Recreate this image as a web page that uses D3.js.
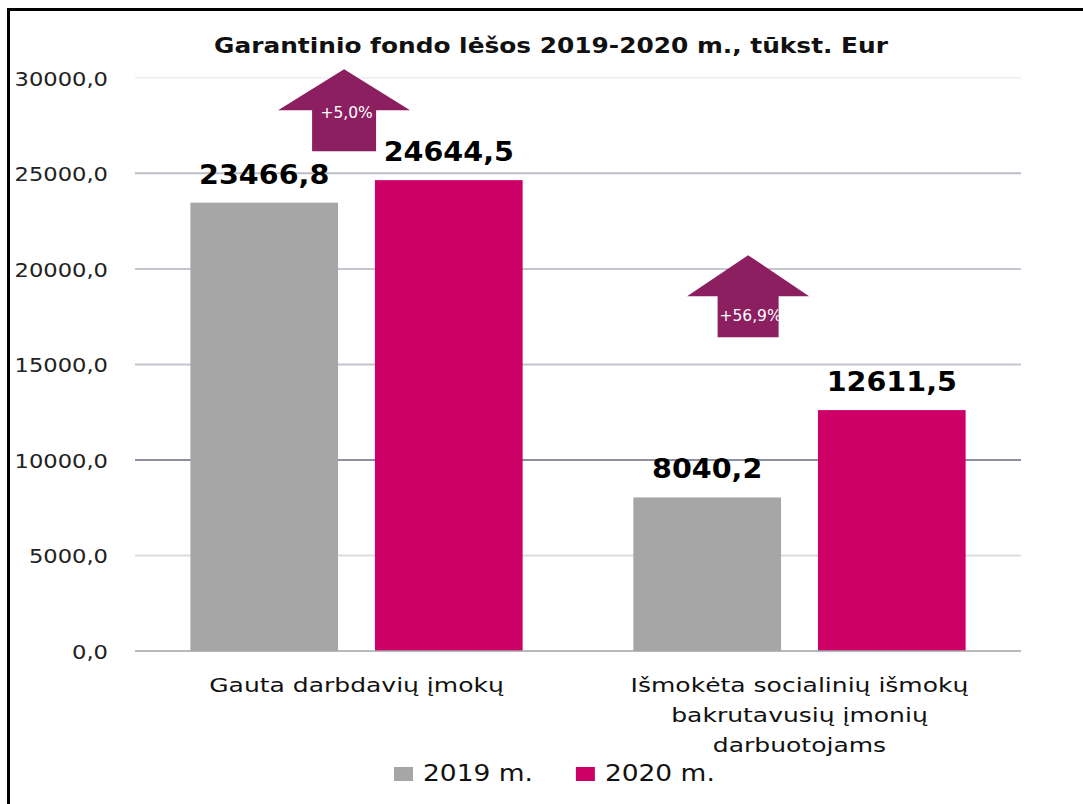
<!DOCTYPE html>
<html>
<head>
<meta charset="utf-8">
<script src="https://cdn.jsdelivr.net/npm/d3@7"></script>
<style>
  html, body { margin: 0; padding: 0; background: #fff; }
  svg { display: block; font-family: "DejaVu Sans", Verdana, sans-serif; }
</style>
</head>
<body>
<svg id="chart" width="1083" height="804"></svg>
<script>
// ---------- data ----------
const title = "Garantinio fondo lėšos 2019-2020 m., tūkst. Eur";
const categories = ["Gauta darbdavių įmokų", "Išmokėta socialinių išmokų bakrutavusių įmonių darbuotojams"];
const categoryLines = [["Gauta darbdavių įmokų"], ["Išmokėta socialinių išmokų", "bakrutavusių įmonių", "darbuotojams"]];
const seriesNames = ["2019 m.", "2020 m."];
const values2019 = [23466.8, 8040.2];
const values2020 = [24644.5, 12611.5];
const yTicks = [0, 5000, 10000, 15000, 20000, 25000, 30000];

// ---------- style ----------
const colors = { "2019 m.": "#a6a6a6", "2020 m.": "#cc0066" };
const arrowColor = "#8c1f60";
const gridColors = { 5000: "#dcdcdf", 10000: "#8e90a2", 15000: "#c4c5ce", 20000: "#c4c5ce", 25000: "#bcbdc8", 30000: "#f1f1f4" };
const arrowStyle = [
  { frac: 0.472, tipValue: 30450, headW: 132, headH: 41, shaftW: 64, shaftH: 41, labelDy: 8 },
  { frac: 0.384, tipValue: 20720, headW: 122, headH: 41, shaftW: 61, shaftH: 41, labelDy: 25 }
];

const locale = d3.formatLocale({ decimal: ",", thousands: "", grouping: [3], currency: ["", "€"] });
const fmt = locale.format(".1f");

const svg = d3.select("#chart");

function stretch(sel, k) {
  sel.each(function () {
    const w = this.getComputedTextLength();
    this.setAttribute("textLength", w * k);
    this.setAttribute("lengthAdjust", "spacingAndGlyphs");
  });
}

// frame
svg.append("rect").attr("x", 8.5).attr("y", 9.5).attr("width", 1200).attr("height", 1000)
  .attr("fill", "none").attr("stroke", "#000").attr("stroke-width", 3);

// scales
const y = d3.scaleLinear().domain([0, 30000]).range([651.1, 77.8]);
const x0 = d3.scaleBand().domain(categories).range([135, 1021]);
const x1 = d3.scaleBand().domain(seriesNames).range([0, x0.bandwidth()]).paddingInner(0.2).paddingOuter(0.3);

// gridlines
svg.append("g").selectAll("line").data(yTicks.filter(d => d > 0)).join("line")
  .attr("x1", 135).attr("x2", 1021)
  .attr("y1", d => y(d)).attr("y2", d => y(d))
  .attr("stroke", d => gridColors[d]).attr("stroke-width", 2);

// y axis labels
const yAxis = svg.append("g").attr("transform", "translate(135,0)")
  .call(d3.axisLeft(y).tickValues(yTicks).tickFormat(fmt).tickSize(0).tickPadding(27));
yAxis.select(".domain").remove();
yAxis.selectAll("text")
  .attr("font-family", "DejaVu Sans").attr("font-size", 19).attr("fill", "#222")
  .attr("dy", "0.39em")
  .call(stretch, 1.19);

// bars
const rows = categories.map((c, i) => ({ cat: c, vals: [{ s: seriesNames[0], v: values2019[i] }, { s: seriesNames[1], v: values2020[i] }] }));
const groups = svg.append("g").selectAll("g").data(rows).join("g")
  .attr("transform", d => `translate(${x0(d.cat)},0)`);
groups.selectAll("rect").data(d => d.vals).join("rect")
  .attr("x", d => x1(d.s)).attr("width", x1.bandwidth())
  .attr("y", d => y(d.v)).attr("height", d => y(0) - y(d.v))
  .attr("fill", d => colors[d.s]);

// baseline
svg.append("line").attr("x1", 135).attr("x2", 1021).attr("y1", y(0)).attr("y2", y(0))
  .attr("stroke", "#a3a3a3").attr("stroke-width", 1.5);

// value labels
groups.selectAll("text.val").data(d => d.vals).join("text").attr("class", "val")
  .attr("x", d => x1(d.s) + x1.bandwidth() / 2).attr("y", d => y(d.v) - 19)
  .attr("text-anchor", "middle").attr("font-weight", "bold").attr("font-size", 26).attr("fill", "#000")
  .text(d => fmt(d.v))
  .call(stretch, 1.1);

// category labels
const catG = svg.append("g").selectAll("text").data(categories).join("text")
  .attr("text-anchor", "middle").attr("font-size", 20).attr("fill", "#111");
catG.each(function (c, i) {
  const t = d3.select(this);
  categoryLines[i].forEach((line, j) => {
    t.append("tspan").attr("x", x0(c) + x0.bandwidth() / 2).attr("y", 692 + j * 30).text(line);
  });
});
catG.selectAll("tspan").call(stretch, 1.25);

// arrows
const defs = svg.append("defs");
arrowStyle.forEach((a, i) => {
  const cx = x0(categories[i]) + a.frac * x0.bandwidth();
  const ty = y(a.tipValue);
  const hb = ty + a.headH;
  const pts = [[cx, ty], [cx + a.headW / 2, hb], [cx + a.shaftW / 2, hb], [cx + a.shaftW / 2, hb + a.shaftH],
    [cx - a.shaftW / 2, hb + a.shaftH], [cx - a.shaftW / 2, hb], [cx - a.headW / 2, hb]];
  const pstr = pts.map(p => p.join(",")).join(" ");
  defs.append("clipPath").attr("id", "clipA" + i).append("polygon").attr("points", pstr);
  svg.append("polygon").attr("points", pstr).attr("fill", arrowColor);
  const change = (values2020[i] / values2019[i] - 1) * 100;
  svg.append("text").attr("clip-path", `url(#clipA${i})`)
    .attr("x", cx + 2.5).attr("y", hb + a.labelDy)
    .attr("text-anchor", "middle").attr("font-size", 15.5).attr("fill", "#fff")
    .text("+" + locale.format(".1f")(change) + "%");
});

// title
svg.append("text").attr("x", 551).attr("y", 53).attr("text-anchor", "middle")
  .attr("font-weight", "bold").attr("font-size", 21).attr("fill", "#111")
  .attr("textLength", 674).attr("lengthAdjust", "spacingAndGlyphs")
  .text(title);

// legend
let lx = 394;
seriesNames.forEach(s => {
  svg.append("rect").attr("x", lx).attr("y", 767).attr("width", 19).attr("height", 14).attr("fill", colors[s]);
  const t = svg.append("text").attr("x", lx + 29).attr("y", 781).attr("font-size", 23).attr("fill", "#111").text(s);
  t.call(stretch, 1.15);
  lx = lx + 29 + (+t.attr("textLength")) + 43;
});
</script>
</body>
</html>
